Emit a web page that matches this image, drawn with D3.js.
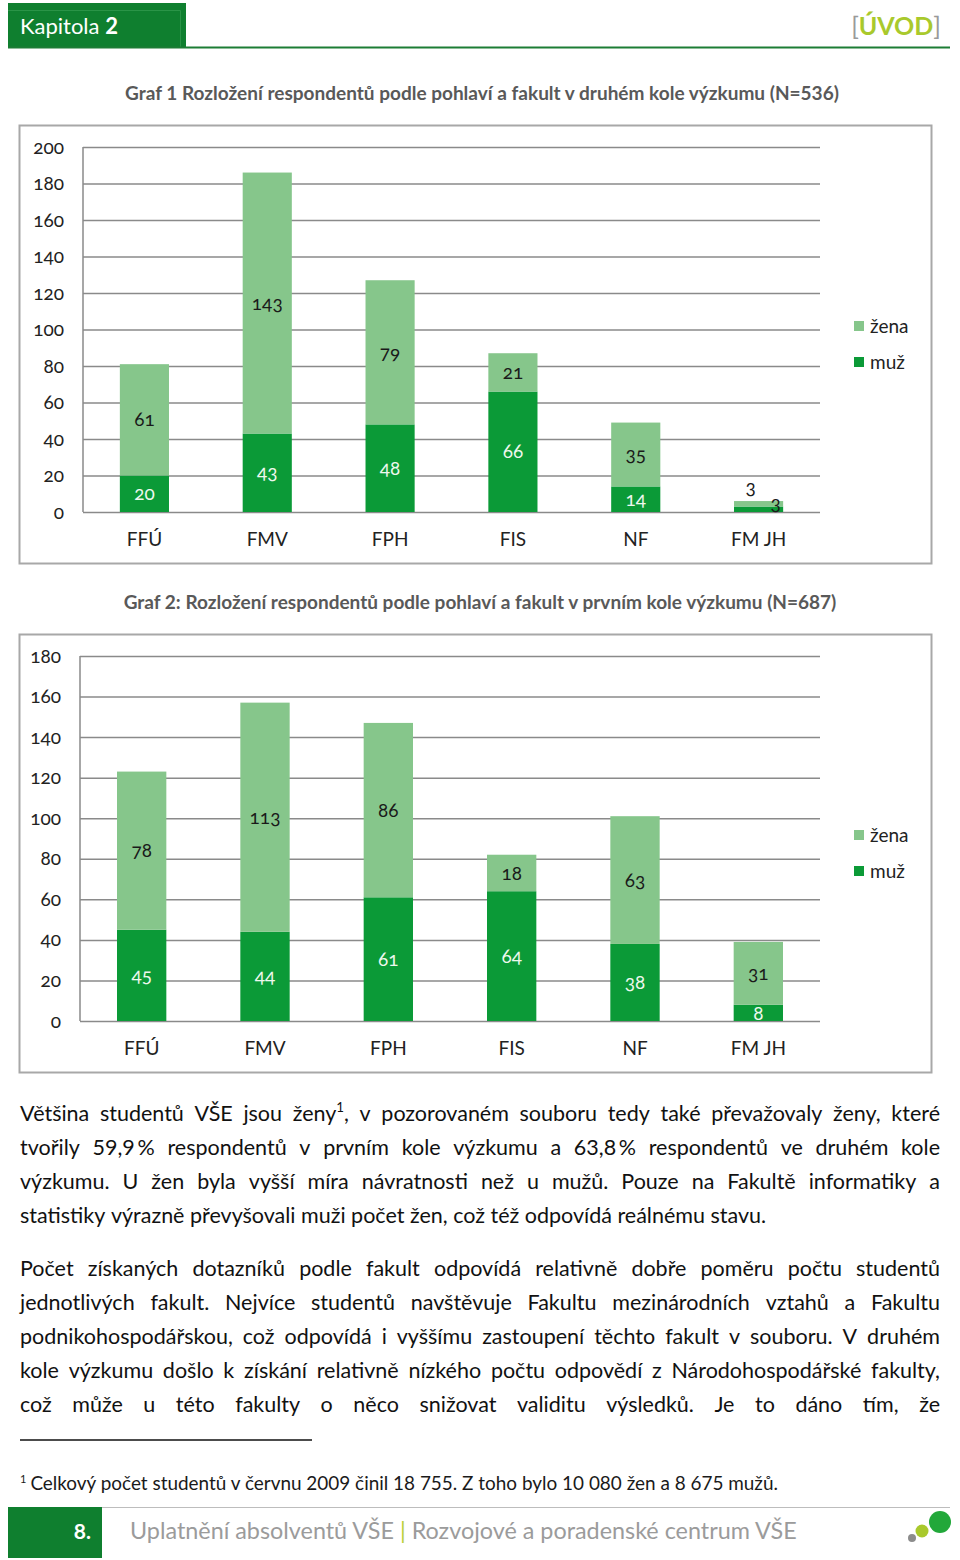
<!DOCTYPE html>
<html><head><meta charset="utf-8">
<script src="https://cdn.jsdelivr.net/npm/d3@7"></script>
<style>body{margin:0;background:#fff}svg{display:block}</style>
</head><body>
<svg id="page" width="960" height="1560"></svg>
<script>
// ---------- DATA ----------
const categories = ["FFÚ", "FMV", "FPH", "FIS", "NF", "FM JH"];
const seriesNames = ["žena", "muž"];
const chart1Muz = [20, 43, 48, 66, 14, 3];
const chart1Zena = [61, 143, 79, 21, 35, 3];
const chart2Muz = [45, 44, 61, 64, 38, 8];
const chart2Zena = [78, 113, 86, 18, 63, 31];
const chart1Ticks = [0, 20, 40, 60, 80, 100, 120, 140, 160, 180, 200];
const chart2Ticks = [0, 20, 40, 60, 80, 100, 120, 140, 160, 180];
const chart1Title = "Graf 1 Rozložení respondentů podle pohlaví a fakult v druhém kole výzkumu (N=536)";
const chart2Title = "Graf 2: Rozložení respondentů podle pohlaví a fakult v prvním kole výzkumu (N=687)";
const paragraph1 = [
  "Většina studentů VŠE jsou ženy{1}, v pozorovaném souboru tedy také převažovaly ženy, které",
  "tvořily 59,9\u2009% respondentů v prvním kole výzkumu a 63,8\u2009% respondentů ve druhém kole",
  "výzkumu. U žen byla vyšší míra návratnosti než u mužů. Pouze na Fakultě informatiky a",
  "statistiky výrazně převyšovali muži počet žen, což též odpovídá reálnému stavu."
];
const paragraph2 = [
  "Počet získaných dotazníků podle fakult odpovídá relativně dobře poměru počtu studentů",
  "jednotlivých fakult. Nejvíce studentů navštěvuje Fakultu mezinárodních vztahů a Fakultu",
  "podnikohospodářskou, což odpovídá i vyššímu zastoupení těchto fakult v souboru. V druhém",
  "kole výzkumu došlo k získání relativně nízkého počtu odpovědí z Národohospodářské fakulty,",
  "což může u této fakulty o něco snižovat validitu výsledků. Je to dáno tím, že"
];
const footnote = "Celkový počet studentů v červnu 2009 činil 18 755. Z toho bylo 10 080 žen a 8 675 mužů.";

// ---------- STYLE ----------
const GREEN = "#0f7f2f";
const COL_MUZ = "#0b9a37";
const COL_ZENA = "#86c68b";
const GRID = "#8a8a8a";
const LABFONT = "Lato, 'Open Sans', sans-serif";
const BODYFONT = "Lato, 'Open Sans', sans-serif";
const LABSIZE = 19;

const svg = d3.select("#page");

// ---------- HEADER ----------
svg.append("rect").attr("x", 8).attr("y", 3).attr("width", 178).attr("height", 45).attr("fill", GREEN);
svg.append("path").attr("d", "M8,10.5H180.5V48").attr("fill", "none").attr("stroke", "#2a9447").attr("stroke-width", 1);
svg.append("line").attr("x1", 8).attr("x2", 950).attr("y1", 47.5).attr("y2", 47.5).attr("stroke", "#1c7d35").attr("stroke-width", 2);
const kap = svg.append("text").attr("x", 20).attr("y", 34).attr("fill", "#fff")
  .attr("font-family", LABFONT).attr("font-size", 22);
kap.append("tspan").text("Kapitola ");
kap.append("tspan").attr("font-weight", "bold").text("2");
const uv = svg.append("text").attr("x", 941).attr("y", 35).attr("text-anchor", "end")
  .attr("font-family", LABFONT).attr("font-size", 25);
uv.append("tspan").attr("fill", "#9a9a9a").text("[");
uv.append("tspan").attr("fill", "#a9c92c").attr("font-weight", "bold").text("ÚVOD");
uv.append("tspan").attr("fill", "#9a9a9a").text("]");

// ---------- CHARTS ----------
function fitText(sel, targetWidth) {
  const w = sel.node().getComputedTextLength();
  const fs = parseFloat(sel.attr("font-size"));
  sel.attr("font-size", fs * targetWidth / w);
}

function drawChart(cfg) {
  const g = svg.append("g");
  g.append("rect").attr("x", cfg.frame[0]).attr("y", cfg.frame[1])
    .attr("width", cfg.frame[2]).attr("height", cfg.frame[3])
    .attr("fill", "none").attr("stroke", "#a8a8a8").attr("stroke-width", 2);
  const t = g.append("text").attr("x", cfg.titleX).attr("y", cfg.titleY).attr("text-anchor", "middle")
    .attr("font-family", BODYFONT).attr("font-weight", "bold").attr("font-size", 18)
    .attr("fill", "#595959").text(cfg.title);
  fitText(t, cfg.titleW);

  const x = d3.scaleBand().domain(categories).range([cfg.x0, cfg.x1]).paddingInner(0.6).paddingOuter(0.3);
  const y = d3.scaleLinear().domain([0, cfg.max]).range([cfg.yBase, cfg.yTop]);

  g.append("g").attr("transform", `translate(${cfg.x0},0)`)
    .call(d3.axisLeft(y).tickValues(cfg.ticks).tickSize(-(cfg.x1 - cfg.x0)).tickFormat(""))
    .call(s => s.select(".domain").remove())
    .call(s => s.selectAll(".tick line").attr("stroke", GRID).attr("stroke-width", 1.5));
  g.append("line").attr("x1", cfg.x0).attr("x2", cfg.x0).attr("y1", y(cfg.max)).attr("y2", y(0))
    .attr("stroke", GRID).attr("stroke-width", 1.5);

  g.append("g").attr("transform", `translate(${cfg.x0 - 19},0)`)
    .call(d3.axisLeft(y).tickValues(cfg.ticks).tickSize(0).tickPadding(0))
    .call(s => s.select(".domain").remove())
    .call(s => s.selectAll("text").attr("font-family", LABFONT).attr("font-size", LABSIZE)
      .attr("fill", "#222").style("font-variant-numeric", "oldstyle-nums"));

  g.append("g").attr("transform", `translate(0,${cfg.xLabY})`)
    .call(d3.axisBottom(x).tickSize(0).tickPadding(0))
    .call(s => s.select(".domain").remove())
    .call(s => s.selectAll("text").attr("font-family", LABFONT).attr("font-size", LABSIZE)
      .attr("fill", "#222").attr("dy", 0));

  const rows = categories.map((c, i) => ({ c, muz: cfg.muz[i], zena: cfg.zena[i] }));
  const stack = d3.stack().keys(["muz", "zena"])(rows);
  const colors = { muz: COL_MUZ, zena: COL_ZENA };
  stack.forEach(layer => {
    g.append("g").selectAll("rect").data(layer).join("rect")
      .attr("x", d => x(d.data.c)).attr("width", x.bandwidth())
      .attr("y", d => y(d[1])).attr("height", d => y(d[0]) - y(d[1]))
      .attr("fill", colors[layer.key]);
  });
  stack.forEach(layer => {
    g.append("g").selectAll("text").data(layer).join("text")
      .attr("font-family", LABFONT).attr("font-size", LABSIZE)
      .style("font-variant-numeric", "oldstyle-nums")
      .attr("text-anchor", "middle").attr("dy", "0.35em")
      .attr("fill", layer.key === "muz" ? "#eef8ee" : "#1a1a1a")
      .each(function (d) {
        const cx = x(d.data.c) + x.bandwidth() / 2;
        const h = y(d[0]) - y(d[1]);
        let px = cx, py = (y(d[0]) + y(d[1])) / 2;
        if (h < 14) {
          if (layer.key === "zena") { px = cx - 8; py = y(d[1]) - 14; }
          else { px = cx + 17; py = y(d[1]) - 3; d3.select(this).attr("fill", "#1a1a1a"); }
        }
        d3.select(this).attr("x", px).attr("y", py).text(d[1] - d[0]);
      });
  });

  const leg = g.append("g");
  [["zena", seriesNames[0], 0], ["muz", seriesNames[1], 1]].forEach(([k, name, i]) => {
    const cy = cfg.legY + i * 36;
    leg.append("rect").attr("x", 854).attr("y", cy - 5).attr("width", 10).attr("height", 10).attr("fill", colors[k]);
    leg.append("text").attr("x", 870).attr("y", cy).attr("dy", "0.35em")
      .attr("font-family", LABFONT).attr("font-size", LABSIZE).attr("fill", "#222").text(name);
  });
}

drawChart({
  frame: [19.5, 125.5, 912, 438], title: chart1Title, titleX: 482, titleY: 100, titleW: 714,
  x0: 83, x1: 820, yBase: 512, yTop: 147, max: 200, ticks: chart1Ticks,
  muz: chart1Muz, zena: chart1Zena, xLabY: 546, legY: 326
});
drawChart({
  frame: [19.5, 634.5, 912, 438], title: chart2Title, titleX: 480, titleY: 609, titleW: 713,
  x0: 80, x1: 820, yBase: 1021, yTop: 656, max: 180, ticks: chart2Ticks,
  muz: chart2Muz, zena: chart2Zena, xLabY: 1055, legY: 835
});

// ---------- BODY TEXT ----------
const body = svg.append("g").attr("font-family", BODYFONT).attr("fill", "#111");
function renderWord(parent, word, x, y, fs) {
  const t = parent.append("text").attr("x", x).attr("y", y).attr("font-size", fs);
  let raised = false;
  word.split(/(\{\d\})/).filter(s => s.length).forEach(part => {
    const m = part.match(/^\{(\d)\}$/);
    if (m) { t.append("tspan").attr("font-size", fs * 0.62).attr("dy", -fs * 0.42).text(m[1]); raised = true; }
    else {
      const ts = t.append("tspan").text(part);
      if (raised) { ts.attr("dy", fs * 0.42); raised = false; }
    }
  });
  return t;
}
function measureWord(word, fs) {
  const t = renderWord(body, word, 0, -100, fs);
  const w = t.node().getComputedTextLength();
  t.remove();
  return w;
}
const LEFT = 20, WIDTH = 920;
const paras = [
  { lines: paragraph1, y0: 1121, lastJustify: false },
  { lines: paragraph2, y0: 1276, lastJustify: true }
];
let fs = 21.5;
const spaceW = s => measureWord("a a", s) - measureWord("aa", s);
let ratio = 1;
paras.forEach(p => p.lines.forEach(line => {
  const words = line.split(" ");
  const sum = d3.sum(words, w => measureWord(w, fs)) + (words.length - 1) * spaceW(fs) * 0.7;
  ratio = Math.min(ratio, WIDTH / sum);
}));
fs = fs * ratio;
const sp = spaceW(fs);
paras.forEach(p => {
  p.lines.forEach((line, li) => {
    const y = p.y0 + li * 34;
    const words = line.split(" ");
    const widths = words.map(w => measureWord(w, fs));
    const justify = li < p.lines.length - 1 || p.lastJustify;
    const gap = justify ? (WIDTH - d3.sum(widths)) / (words.length - 1) : sp;
    let x = LEFT;
    words.forEach((w, i) => { renderWord(body, w, x, y, fs); x += widths[i] + gap; });
  });
});

// footnote
svg.append("line").attr("x1", 20).attr("x2", 312).attr("y1", 1440).attr("y2", 1440)
  .attr("stroke", "#111").attr("stroke-width", 1.5);
const fn = svg.append("text").attr("x", 20).attr("y", 1490).attr("font-family", LABFONT)
  .attr("font-size", 17).attr("fill", "#1a1a1a");
fn.append("tspan").attr("font-size", 11).attr("dy", -7).text("1");
fn.append("tspan").attr("dy", 7).attr("dx", 4).text(footnote);
{
  const w = fn.node().getComputedTextLength();
  fn.attr("font-size", 17 * 755 / w);
}

// ---------- FOOTER ----------
svg.append("line").attr("x1", 102).attr("x2", 950).attr("y1", 1507.5).attr("y2", 1507.5)
  .attr("stroke", "#bdbdbd").attr("stroke-width", 1);
svg.append("rect").attr("x", 8).attr("y", 1507).attr("width", 94).attr("height", 51).attr("fill", GREEN);
svg.append("text").attr("x", 91).attr("y", 1539).attr("text-anchor", "end").attr("fill", "#fff")
  .attr("font-family", LABFONT).attr("font-weight", "bold").attr("font-size", 21).text("8.");
const ft = svg.append("text").attr("x", 130).attr("y", 1539).attr("font-family", LABFONT)
  .attr("font-size", 22).attr("fill", "#9b9b9b");
ft.append("tspan").text("Uplatnění absolventů VŠE ");
ft.append("tspan").attr("fill", "#b8cf3a").text("|");
ft.append("tspan").text(" Rozvojové a poradenské centrum VŠE");
{
  const w = ft.node().getComputedTextLength();
  ft.attr("font-size", 22 * 667 / w);
}
svg.append("circle").attr("cx", 912).attr("cy", 1538).attr("r", 4).attr("fill", "#8c8c8c");
svg.append("circle").attr("cx", 922).attr("cy", 1531).attr("r", 6.5).attr("fill", "#a9c92c");
svg.append("circle").attr("cx", 940).attr("cy", 1522).attr("r", 11).attr("fill", "#22a83a");
</script>
</body></html>
